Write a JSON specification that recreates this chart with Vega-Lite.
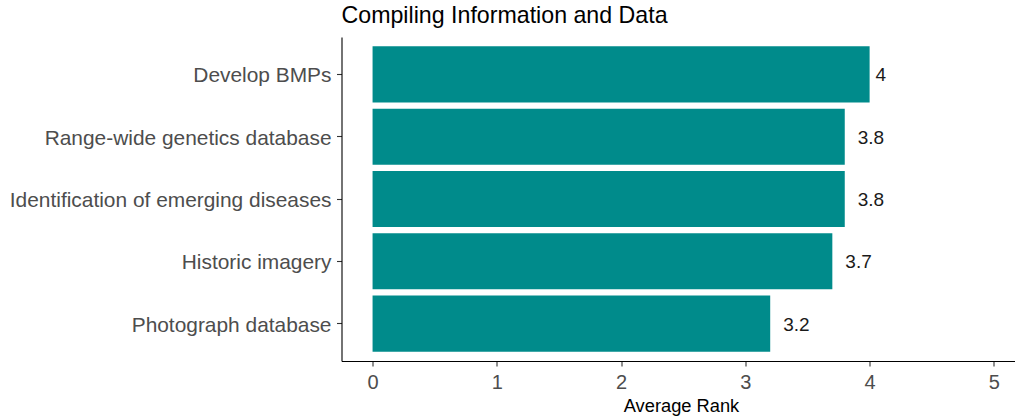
{
  "$schema": "https://vega.github.io/schema/vega-lite/v6.json",
  "autosize": {"type": "none"},
  "padding": {"left": 341.5, "top": 37, "right": 0, "bottom": 56},
  "width": 673.5,
  "height": 324,
  "background": "white",
  "config": {
    "view": {"stroke": null},
    "font": "Liberation Sans",
    "axis": {"grid": false}
  },
  "title": {
    "text": "Compiling Information and Data",
    "anchor": "start",
    "frame": "group",
    "baseline": "alphabetic",
    "offset": 12,
    "dy": 21,
    "fontSize": 23.2,
    "fontWeight": "normal",
    "color": "#000000",
    "font": "Liberation Sans"
  },
  "data": {
    "values": [
      {"Action": "Develop BMPs", "Rank": 4},
      {"Action": "Range-wide genetics database", "Rank": 3.8},
      {"Action": "Identification of emerging diseases", "Rank": 3.8},
      {"Action": "Historic imagery", "Rank": 3.7},
      {"Action": "Photograph database", "Rank": 3.2}
    ]
  },
  "encoding": {
    "y": {
      "field": "Action",
      "type": "nominal",
      "sort": ["Develop BMPs", "Range-wide genetics database", "Identification of emerging diseases", "Historic imagery", "Photograph database"],
      "scale": {"paddingInner": 0.1, "paddingOuter": 0.15},
      "axis": {
        "title": null,
        "domainColor": "#000000",
        "domainWidth": 1.1,
        "tickColor": "#333333",
        "tickSize": 5,
        "tickWidth": 1.1,
        "labelPadding": 5.5,
        "labelOffset": 2,
        "labelFontSize": 20.9,
        "labelColor": "#4D4D4D",
        "labelFont": "Liberation Sans",
        "labelLimit": 400
      }
    },
    "x": {
      "field": "Rank",
      "type": "quantitative",
      "scale": {"domain": [-0.25, 5.17], "nice": false, "zero": false},
      "axis": {
        "title": "Average Rank",
        "values": [0, 1, 2, 3, 4, 5],
        "format": "d",
        "domainColor": "#000000",
        "domainWidth": 1.1,
        "tickColor": "#333333",
        "tickSize": 5,
        "tickWidth": 1.1,
        "labelPadding": 22,
        "labelBaseline": "alphabetic",
        "labelFontSize": 20,
        "labelColor": "#4D4D4D",
        "labelFont": "Liberation Sans",
        "titleFontSize": 18.3,
        "titleFontWeight": "normal",
        "titleColor": "#000000",
        "titleFont": "Liberation Sans",
        "titleX": 339.5,
        "titleY": 50,
        "titleBaseline": "alphabetic"
      }
    }
  },
  "layer": [
    {
      "mark": {"type": "bar", "color": "#008B8B"},
      "encoding": {
        "x": {"field": "Rank", "type": "quantitative"},
        "x2": {"datum": 0}
      }
    },
    {
      "transform": [{"filter": "datum.Rank % 1 == 0"}],
      "mark": {"type": "text", "align": "left", "baseline": "middle", "dx": 6, "dy": 1, "fontSize": 19, "color": "#1A1A1A", "font": "Liberation Sans"},
      "encoding": {"text": {"field": "Rank", "type": "quantitative"}}
    },
    {
      "transform": [{"filter": "datum.Rank % 1 != 0"}],
      "mark": {"type": "text", "align": "left", "baseline": "middle", "dx": 13, "dy": 1, "fontSize": 19, "color": "#1A1A1A", "font": "Liberation Sans"},
      "encoding": {"text": {"field": "Rank", "type": "quantitative"}}
    }
  ]
}
